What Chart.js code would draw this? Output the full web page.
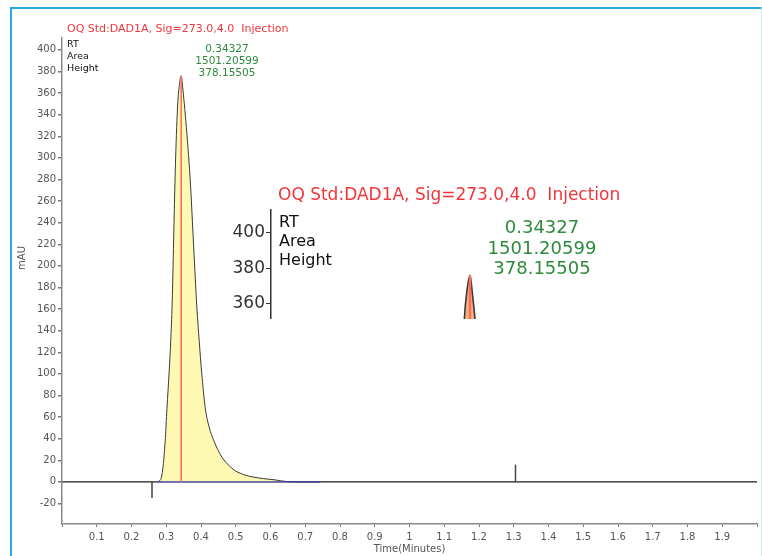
<!DOCTYPE html>
<html lang="en">

<head>
    <meta charset="UTF-8">
    <title>OQ Std:DAD1A chromatogram</title>
    <style>
        body {
            margin: 0;
            background: #fff;
            font-family: "DejaVu Sans", sans-serif;
        }

        .page {
            position: relative;
            width: 762px;
            height: 556px;
            overflow: hidden;
        }

        .frame {
            position: absolute;
            left: 10px;
            top: 7px;
            width: 749px;
            height: 560px;
            border-top: 2px solid #2aa8e0;
            border-left: 2px solid #2aa8e0;
            border-right: 1px solid #cfe8f4;
            box-sizing: content-box;
        }

        #mainChart {
            position: absolute;
            left: 0;
            top: 0;
        }

        .txt {
            position: absolute;
            white-space: nowrap;
            line-height: 1;
        }

        .red { color: #f2353a; }
        .green { color: #2e8a3c; text-align: center; }
        .black { color: #111; }

        .inset {
            position: absolute;
            left: 225px;
            top: 180px;
            width: 415px;
            height: 139px;
            background: #fff;
            overflow: hidden;
        }

        #insetChart {
            position: absolute;
            left: 0;
            top: 20px;
        }
    </style>
</head>

<body>
    <div class="page">
        <canvas id="mainChart" width="762" height="556"></canvas>
        <div class="frame"></div>

        <!-- peak annotation -->
        <div class="txt red" style="left:67px; top:23px; font-size:11px;">OQ Std:DAD1A, Sig=273.0,4.0&nbsp; Injection</div>
        <div class="txt black" style="left:67px; top:39px; font-size:9.5px;">RT</div>
        <div class="txt black" style="left:67px; top:51px; font-size:9.5px;">Area</div>
        <div class="txt black" style="left:67px; top:63px; font-size:9.5px;">Height</div>
        <div class="txt green" style="left:177px; width:100px; top:43px; font-size:10.5px;">0.34327</div>
        <div class="txt green" style="left:177px; width:100px; top:55px; font-size:10.5px;">1501.20599</div>
        <div class="txt green" style="left:177px; width:100px; top:67px; font-size:10.5px;">378.15505</div>
        <div class="txt" style="left:22px; top:258px; font-size:10px; color:#555; transform:translate(-50%,-50%) rotate(-90deg);">mAU</div>

        <!-- magnified view of the top -->
        <div class="inset">
            <canvas id="insetChart" width="415" height="130"></canvas>
            <div class="txt red" style="left:53px; top:6px; font-size:17px;">OQ Std:DAD1A, Sig=273.0,4.0&nbsp; Injection</div>
            <div class="txt black" style="left:54px; top:34px; font-size:16px;">RT</div>
            <div class="txt black" style="left:54px; top:53px; font-size:16px;">Area</div>
            <div class="txt black" style="left:54px; top:72px; font-size:16px;">Height</div>
            <div class="txt green" style="left:227px; width:180px; top:38px; font-size:18px;">0.34327</div>
            <div class="txt green" style="left:227px; width:180px; top:59px; font-size:18px;">1501.20599</div>
            <div class="txt green" style="left:227px; width:180px; top:79px; font-size:18px;">378.15505</div>
        </div>
    </div>

    <script src="https://cdn.jsdelivr.net/npm/chart.js"></script>
    <script>
        // signal trace (time in minutes, absorbance in mAU)
        const peakTime = [0, 0.27, 0.280, 0.285, 0.290, 0.297, 0.302, 0.308, 0.313, 0.317,
            0.320, 0.323, 0.327, 0.333, 0.338, 0.343, 0.347, 0.352, 0.358, 0.364,
            0.370, 0.377, 0.383, 0.388, 0.395, 0.402, 0.412, 0.424, 0.436, 0.448,
            0.460, 0.472, 0.484, 0.500, 0.513, 0.530, 0.550, 0.580, 0.610, 0.630,
            0.660, 2.0];
        const peakMau = [0, 0, 1, 3, 12, 38, 68, 100, 131, 165,
            205, 250, 300, 350, 368, 376, 366, 350, 328, 303,
            274, 230, 192, 162, 130, 101, 69, 50, 39, 30,
            23, 18, 14, 10, 8, 6, 4.5, 3, 2, 1,
            0, 0];

        // retention time marker
        const rtLineTime = [0.343, 0.343];
        const rtLineMau = [0, 376];

        // integration baseline
        const baselineTime = [0.273, 0.743];
        const baselineMau = [0, 0];

        // event ticks on the zero line
        const eventStartTime = [0.259, 0.259];
        const eventStartMau = [0, -15];
        const eventEndTime = [1.305, 1.305];
        const eventEndMau = [0, 16];

        // axes
        const timeMin = 0, timeMax = 2.0, timeStep = 0.1;
        const mauMin = -39, mauMax = 411, mauStep = 20;
        const insetTimeMin = 0, insetTimeMax = 0.636;
        const insetMauMin = 347.2, insetMauMax = 413;

        function toPoints(xs, ys) {
            return xs.map((x, i) => ({ x: x, y: ys[i] }));
        }

        Chart.defaults.font.family = '"DejaVu Sans", sans-serif';

        function buildDatasets(scale) {
            return [
                {
                    data: toPoints(rtLineTime, rtLineMau),
                    borderColor: '#ff6a5c',
                    borderWidth: 1.5 * scale,
                    pointRadius: 0,
                    fill: false,
                    order: 0
                },
                {
                    data: toPoints(baselineTime, baselineMau),
                    borderColor: '#3b3ba6',
                    borderWidth: 1.2,
                    pointRadius: 0,
                    fill: false,
                    order: 1
                },
                {
                    data: toPoints(peakTime, peakMau),
                    borderColor: '#3a3a3a',
                    borderWidth: 1 * scale,
                    backgroundColor: scale > 1 ? '#f6b080' : '#fdf8b2',
                    pointRadius: 0,
                    fill: 'origin',
                    cubicInterpolationMode: 'monotone',
                    order: 2
                },
                {
                    data: toPoints(eventStartTime, eventStartMau),
                    borderColor: '#444',
                    borderWidth: 1.5,
                    pointRadius: 0,
                    fill: false,
                    order: 1
                },
                {
                    data: toPoints(eventEndTime, eventEndMau),
                    borderColor: '#444',
                    borderWidth: 1.5,
                    pointRadius: 0,
                    fill: false,
                    order: 1
                }
            ];
        }

        new Chart(document.getElementById('mainChart'), {
            type: 'line',
            data: { datasets: buildDatasets(1) },
            options: {
                responsive: false,
                animation: false,
                events: [],
                layout: { padding: { left: 0, right: 5, top: 38, bottom: 0 } },
                plugins: { legend: { display: false }, tooltip: { enabled: false } },
                scales: {
                    x: {
                        type: 'linear',
                        min: timeMin,
                        max: timeMax,
                        afterFit: s => { s.height = 32; },
                        border: { color: '#8a8a8a', width: 1.5 },
                        grid: { color: 'transparent', tickColor: '#777', tickLength: 3 },
                        ticks: {
                            stepSize: timeStep,
                            color: '#555',
                            font: { size: 10 },
                            padding: 4,
                            maxRotation: 0,
                            autoSkip: false,
                            callback: v => (v < 0.05 || v > timeMax - 0.05) ? '' : String(Math.round(v * 10) / 10)
                        },
                        title: {
                            display: true,
                            text: 'Time(Minutes)',
                            color: '#555',
                            font: { size: 10 },
                            padding: { top: 0, bottom: 1 }
                        }
                    },
                    y: {
                        type: 'linear',
                        min: mauMin,
                        max: mauMax,
                        afterFit: s => { s.width = 62; s.paddingTop = 0; s.paddingBottom = 0; },
                        border: { color: '#8a8a8a', width: 1.5 },
                        grid: {
                            color: c => c.tick && c.tick.value === 0 ? '#808080' : 'transparent',
                            lineWidth: 1.5,
                            tickColor: '#777',
                            tickLength: 4
                        },
                        ticks: {
                            stepSize: mauStep,
                            includeBounds: false,
                            color: '#555',
                            font: { size: 10 },
                            padding: 2
                        }
                    }
                }
            }
        });

        new Chart(document.getElementById('insetChart'), {
            type: 'line',
            data: { datasets: buildDatasets(1.6) },
            options: {
                responsive: false,
                animation: false,
                events: [],
                layout: { padding: { left: 0, right: 0, top: 10, bottom: 4 } },
                plugins: { legend: { display: false }, tooltip: { enabled: false } },
                scales: {
                    x: { type: 'linear', display: false, min: insetTimeMin, max: insetTimeMax },
                    y: {
                        type: 'linear',
                        min: insetMauMin,
                        max: insetMauMax,
                        afterFit: s => { s.width = 46; s.paddingTop = 0; s.paddingBottom = 0; },
                        border: { color: '#333', width: 1.5 },
                        grid: { color: 'transparent', tickColor: '#333', tickLength: 5 },
                        ticks: {
                            stepSize: mauStep,
                            includeBounds: false,
                            color: '#333',
                            font: { size: 17 },
                            padding: 1
                        }
                    }
                }
            }
        });
    </script>
</body>

</html>
